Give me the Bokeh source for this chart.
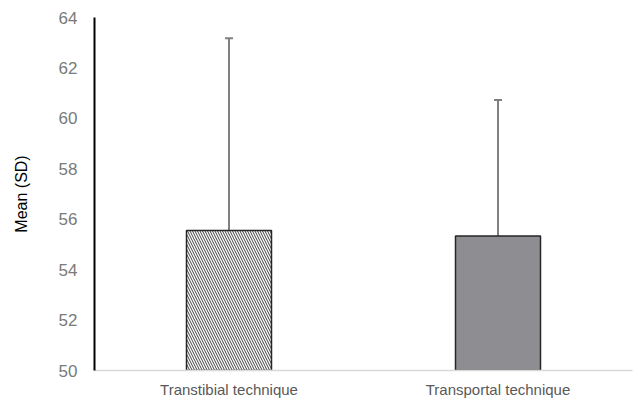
from bokeh.plotting import figure
from bokeh.models import ColumnDataSource, Whisker, TeeHead, FactorRange, Range1d
from bokeh.embed import file_html
from bokeh.resources import INLINE

categories = ["Transtibial technique", "Transportal technique"]
means = [55.55, 55.33]
sds = [7.63, 5.40]
y_ticks = [50, 52, 54, 56, 58, 60, 62, 64]

upper = [m + s for m, s in zip(means, sds)]
src = ColumnDataSource(dict(cat=categories, mean=means, upper=upper,
                            fill=["white", "#8e8e92"],
                            hatch=["\\", " "]))

p = figure(x_range=FactorRange(*categories, range_padding=0),
           y_range=Range1d(50, 64),
           width=636, height=400, output_backend="svg", toolbar_location=None,
           min_border_left=94, min_border_right=4, min_border_top=17, min_border_bottom=28)

p.vbar(x="cat", top="mean", bottom=50, width=0.316, source=src,
       fill_color="fill", line_color="#262626", line_width=1.5,
       hatch_pattern="hatch", hatch_color="#404040", hatch_scale=5, hatch_weight=1)

w = Whisker(base="cat", lower="mean", upper="upper", source=src,
            line_color="#7f7f84", line_width=2,
            upper_head=TeeHead(size=8, line_color="#7f7f84", line_width=2),
            lower_head=None)
p.add_layout(w)

p.outline_line_color = None
p.xgrid.grid_line_color = None
p.ygrid.grid_line_color = None

p.yaxis.ticker = y_ticks
p.yaxis.axis_line_color = "#000000"
p.yaxis.axis_line_width = 2
p.yaxis.major_tick_line_color = None
p.yaxis.minor_tick_line_color = None
p.yaxis.major_label_text_color = "#7a7a7a"
p.yaxis.major_label_text_font = "Liberation Sans"
p.yaxis.major_label_text_font_size = "17px"
p.yaxis.major_label_standoff = 11
p.yaxis.axis_label = "Mean (SD)"
p.yaxis.axis_label_text_font = "Liberation Sans"
p.yaxis.axis_label_text_font_style = "normal"
p.yaxis.axis_label_text_font_size = "16px"
p.yaxis.axis_label_text_color = "#000000"
p.yaxis.axis_label_standoff = 26

p.xaxis.axis_line_color = "#d9d9d9"
p.xaxis.axis_line_width = 1.5
p.xaxis.major_tick_line_color = None
p.xaxis.minor_tick_line_color = None
p.xaxis.major_label_text_color = "#595959"
p.xaxis.major_label_text_font = "Liberation Sans"
p.xaxis.major_label_text_font_size = "15px"
p.xaxis.major_label_standoff = 4

open("out.html", "w").write(file_html(p, INLINE))
